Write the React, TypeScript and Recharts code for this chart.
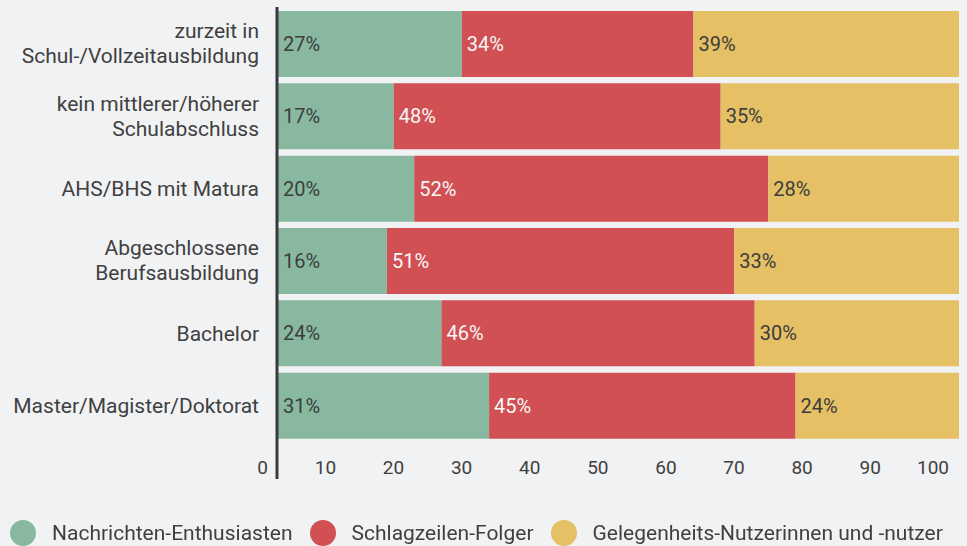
import React from "react";
import { BarChart, Bar, XAxis, YAxis, LabelList, ReferenceLine, Legend } from "recharts";

const categories = [
  "zurzeit in\nSchul-/Vollzeitausbildung",
  "kein mittlerer/höherer\nSchulabschluss",
  "AHS/BHS mit Matura",
  "Abgeschlossene\nBerufsausbildung",
  "Bachelor",
  "Master/Magister/Doktorat",
];
const enthusiasten = [27, 17, 20, 16, 24, 31];
const folger = [34, 48, 52, 51, 46, 45];
const gelegenheit = [39, 35, 28, 33, 30, 24];
const xTicks = [0, 10, 20, 30, 40, 50, 60, 70, 80, 90, 100];

const seriesNames = [
  "Nachrichten-Enthusiasten",
  "Schlagzeilen-Folger",
  "Gelegenheits-Nutzerinnen und -nutzer",
];

const GREEN = "#88b9a0";
const RED = "#d05053";
const YELLOW = "#e5c064";
const BG = "#f1f2f4";
const TEXT = "#404040";
const FONT = "Roboto, 'Noto Sans', sans-serif";

const data = categories.map((c, i) => ({
  cat: c,
  a: enthusiasten[i],
  b: folger[i],
  c: gelegenheit[i],
}));

const pct = (v: any) => `${v}%`;

const YTick = (props: any) => {
  const { x, y, payload } = props;
  const lines = String(payload.value).split("\n");
  const offsets = lines.length === 2 ? [-6, 19] : [7];
  return (
    <g>
      {lines.map((l, i) => (
        <text
          key={i}
          x={x - 19}
          y={y + offsets[i]}
          textAnchor="end"
          fill={TEXT}
          fontSize={21}
          fontFamily={FONT}
        >
          {l}
        </text>
      ))}
    </g>
  );
};

const XTick = (props: any) => {
  const { x, y, payload } = props;
  return (
    <text
      x={x - 10}
      y={y + 32}
      textAnchor="end"
      fill={TEXT}
      fontSize={19}
      fontFamily={FONT}
    >
      {payload.value}
    </text>
  );
};

const AxisLineShape = (props: any) => {
  const { x1, y1, y2 } = props;
  return (
    <line
      x1={x1 - 1}
      x2={x1 - 1}
      y1={Math.min(y1, y2) - 1}
      y2={Math.max(y1, y2) + 37}
      stroke="#3a3a3a"
      strokeWidth={3}
    />
  );
};

const LegendContent = () => {
  const colors = [GREEN, RED, YELLOW];
  return (
    <div
      style={{
        display: "flex",
        alignItems: "center",
        height: 28,
        paddingLeft: 10,
        fontFamily: FONT,
        fontSize: 21,
        color: TEXT,
        whiteSpace: "nowrap",
      }}
    >
      {seriesNames.map((n, i) => (
        <div key={n} style={{ display: "flex", alignItems: "center", marginRight: 17 }}>
          <span
            style={{
              display: "inline-block",
              width: 26,
              height: 26,
              borderRadius: 13,
              background: colors[i],
              marginRight: 16,
            }}
          />
          <span>{n}</span>
        </div>
      ))}
    </div>
  );
};

export default function App() {
  return (
    <div
      style={{
        position: "fixed",
        left: 0,
        top: 0,
        width: 967,
        height: 546,
        background: BG,
        fontFamily: FONT,
      }}
    >
      <BarChart
        width={967}
        height={546}
        data={data}
        layout="vertical"
        margin={{ top: 8, right: 8, bottom: 46, left: 0 }}
        barCategoryGap={3}
      >
        <XAxis
          type="number"
          domain={[0, 100]}
          ticks={xTicks}
          interval={0}
          axisLine={false}
          tickLine={false}
          tickSize={0}
          tickMargin={0}
          height={30}
          tick={<XTick />}
        />
        <YAxis
          type="category"
          dataKey="cat"
          width={278}
          axisLine={false}
          tickLine={false}
          tickSize={0}
          tickMargin={0}
          interval={0}
          tick={<YTick />}
        />
        <Legend
          verticalAlign="bottom"
          content={<LegendContent />}
          wrapperStyle={{ left: 0, top: 519, width: 967, height: 28 }}
        />
        <Bar dataKey="a" name={seriesNames[0]} stackId="s" fill={GREEN} isAnimationActive={false}>
          <LabelList
            dataKey="a"
            position="insideLeft"
            offset={5}
            formatter={pct}
            fill="#3d3d3d"
            fontSize={20}
            fontFamily={FONT}
          />
        </Bar>
        <Bar dataKey="b" name={seriesNames[1]} stackId="s" fill={RED} isAnimationActive={false}>
          <LabelList
            dataKey="b"
            position="insideLeft"
            offset={5}
            formatter={pct}
            fill="#f7f7f7"
            fontSize={20}
            fontFamily={FONT}
          />
        </Bar>
        <Bar dataKey="c" name={seriesNames[2]} stackId="s" fill={YELLOW} isAnimationActive={false}>
          <LabelList
            dataKey="c"
            position="insideLeft"
            offset={5}
            formatter={pct}
            fill="#3d3d3d"
            fontSize={20}
            fontFamily={FONT}
          />
        </Bar>
        <ReferenceLine x={0} shape={<AxisLineShape />} ifOverflow="visible" />
      </BarChart>
    </div>
  );
}
